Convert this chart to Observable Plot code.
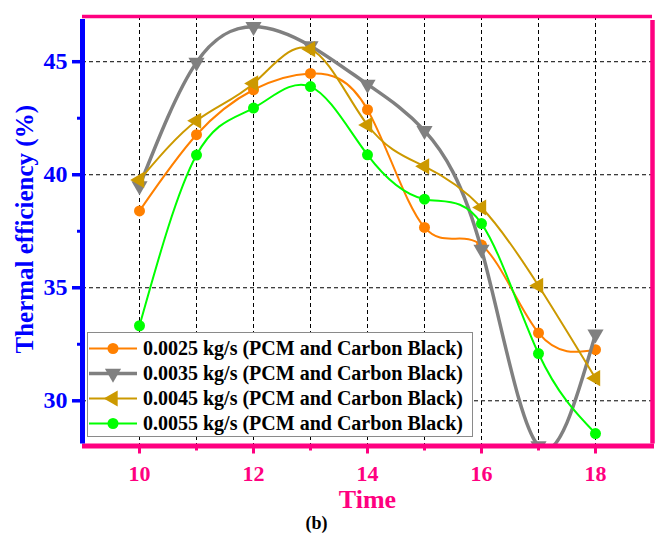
<!DOCTYPE html>
<html><head><meta charset="utf-8">
<script src="https://cdn.jsdelivr.net/npm/d3@7"></script>
<script src="https://cdn.jsdelivr.net/npm/@observablehq/plot@0.6"></script>
<style>
body{margin:0;background:#fff;}
#wrap{position:relative;width:659px;height:534px;}
#legend{position:absolute;left:87px;top:332px;width:386px;height:105px;border:1px solid #8a8a8a;background:#fff;box-sizing:border-box;padding-top:3px;font-family:"Liberation Serif","Times New Roman",serif;font-weight:bold;font-size:20px;color:#000;}
.row{height:25px;display:flex;align-items:center;white-space:nowrap;}
.row svg{flex:none;margin-right:3px;}
</style></head><body><div id="wrap"><div id="legend"></div></div>
<script>
// ---- data ----
const times = [10, 11, 12, 13, 14, 15, 16, 17, 18];
const seriesNames = [
  "0.0025 kg/s (PCM and Carbon Black)",
  "0.0035 kg/s (PCM and Carbon Black)",
  "0.0045 kg/s (PCM and Carbon Black)",
  "0.0055 kg/s (PCM and Carbon Black)"
];
const eff0025 = [38.4, 41.77, 43.76, 44.48, 42.88, 37.67, 36.89, 33.0, 32.26];
const eff0035 = [39.5, 44.97, 46.55, 45.7, 44.0, 41.95, 36.7, 28.0, 32.95];
const eff0045 = [39.77, 42.39, 44.04, 45.56, 42.2, 40.37, 38.55, 35.09, 31.0];
const eff0055 = [33.32, 40.87, 42.95, 43.9, 40.88, 38.92, 37.84, 32.09, 28.55];
const seriesValues = [eff0025, eff0035, eff0045, eff0055];

const xMajorTicks = [10, 12, 14, 16, 18];
const xMinorTicks = [11, 13, 15, 17];
const xGridTicks = [10, 11, 12, 13, 14, 15, 16, 17, 18];
const yMajorTicks = [30, 35, 40, 45];
const yMinorTicks = [32.5, 37.5, 42.5];
const xDomain = [9, 19];
const yDomain = [28, 47];

// ---- styles ----
const colors = ["#ff8000", "#808080", "#cc9900", "#00ff00"];
const symbols = ["circle", "triangle", "triangle", "circle"];
const rotations = [0, 180, -90, 0];
const widths = [2, 3.5, 2, 2];
const radii = [5.5, 6, 6, 5.5];
const PINK = "#ff0080", BLUE = "#0000ff";
const FONT = "Liberation Serif, Times New Roman, serif";

const rows = [];
seriesValues.forEach((vals, i) => vals.forEach((v, j) => rows.push({series: i, time: times[j], eff: v})));

const marks = [
  Plot.gridX(xGridTicks, {stroke: "#000", strokeOpacity: 1, strokeWidth: 1, strokeDasharray: "4,3"}),
  Plot.gridY(yMajorTicks, {stroke: "#000", strokeOpacity: 1, strokeWidth: 1, strokeDasharray: "4,3"})
];
seriesValues.forEach((_, i) => {
  const d = rows.filter(r => r.series === i);
  marks.push(Plot.line(d, {x: "time", y: "eff", stroke: colors[i], strokeWidth: widths[i], curve: "natural", clip: true}));
  marks.push(Plot.dot(d, {x: "time", y: "eff", fill: colors[i], stroke: "none", symbol: symbols[i], r: radii[i], rotate: rotations[i], clip: true}));
});
marks.push(
  Plot.ruleY([yDomain[1]], {stroke: PINK, strokeWidth: 3.5}),
  Plot.ruleX([xDomain[1]], {stroke: PINK, strokeWidth: 4.5, y1: yDomain[0], y2: yDomain[1], insetTop: -2, insetBottom: -4}),
  Plot.ruleY([yDomain[0]], {stroke: PINK, strokeWidth: 5, insetRight: -2}),
  Plot.ruleX([xDomain[0]], {stroke: BLUE, strokeWidth: 5, y1: yDomain[0], y2: yDomain[1], insetTop: -2, insetBottom: -3}),
  Plot.axisX(xMajorTicks, {tickSize: 8, tickPadding: 11, stroke: PINK, strokeWidth: 3, fill: PINK, fontSize: 22, fontWeight: "bold", fontFamily: FONT, label: null}),
  Plot.axisX(xMinorTicks, {tickSize: 5, tickFormat: () => "", stroke: PINK, strokeWidth: 3, label: null}),
  Plot.axisY(yMajorTicks, {tickSize: 10, tickPadding: 5, stroke: BLUE, strokeWidth: 3.5, fill: BLUE, fontSize: 24, fontWeight: "bold", fontFamily: FONT, label: null}),
  Plot.axisY(yMinorTicks, {tickSize: 5, tickFormat: () => "", stroke: BLUE, strokeWidth: 3, label: null}),
  Plot.text(["Time"], {text: d => d, frameAnchor: "bottom", dy: 62, fontSize: 26, fontWeight: "bold", fontFamily: FONT, fill: PINK}),
  Plot.text(["Thermal efficiency (%)"], {text: d => d, frameAnchor: "left", textAnchor: "middle", rotate: -90, dx: -58, dy: -2, fontSize: 25, fontWeight: "bold", fontFamily: FONT, fill: BLUE}),
  Plot.text(["(b)"], {text: d => d, frameAnchor: "bottom", dx: -51, dy: 83, fontSize: 18, fontWeight: "bold", fontFamily: FONT, fill: "#000"})
);

const chart = Plot.plot({
  width: 659, height: 534,
  marginLeft: 82, marginRight: 7, marginTop: 16, marginBottom: 88.5,
  x: {domain: xDomain, label: null},
  y: {domain: yDomain, label: null},
  style: {background: "#fff", overflow: "visible"},
  marks
});
document.getElementById("wrap").prepend(chart);

// ---- legend ----
const legend = d3.select("#legend");
seriesNames.forEach((name, i) => {
  const row = legend.append("div").attr("class", "row");
  const svg = row.append("svg").attr("width", 52).attr("height", 25);
  svg.append("line").attr("x1", 1).attr("x2", 49).attr("y1", 12.5).attr("y2", 12.5)
    .attr("stroke", colors[i]).attr("stroke-width", widths[i]);
  const sym = symbols[i] === "circle" ? d3.symbolCircle : d3.symbolTriangle;
  svg.append("path").attr("d", d3.symbol(sym, Math.PI * radii[i] * radii[i])())
    .attr("transform", `translate(25,12.5) rotate(${rotations[i]})`).attr("fill", colors[i]);
  row.append("span").text(name);
});
</script>
</body></html>
